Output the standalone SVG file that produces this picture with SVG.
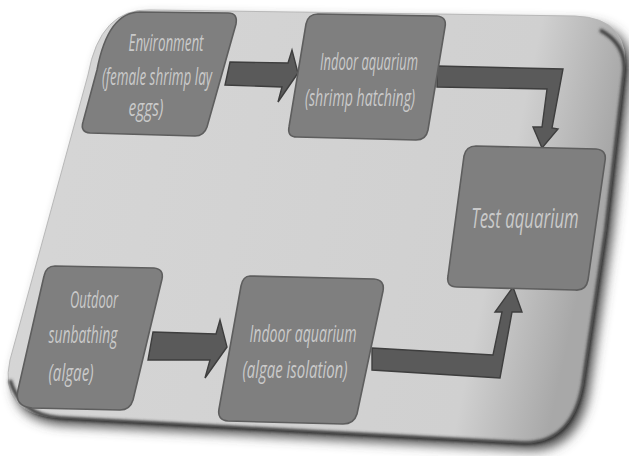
<svg xmlns="http://www.w3.org/2000/svg" width="629" height="456" viewBox="0 0 629 456">
<defs>
<style>
.node path{fill:#7f7f7f;stroke:#5e5e5e;stroke-width:1.6}
.node text{font-family:"Open Sans","Liberation Sans",sans-serif;font-style:italic;font-size:24px;fill:#cacaca;text-anchor:middle}
.arrow{fill:#5a5a5a;stroke:#3e3e3e;stroke-width:1.4;stroke-linejoin:miter}
</style>
<filter id="sh" x="-10%" y="-10%" width="125%" height="125%"><feGaussianBlur stdDeviation="6"/></filter>
<filter id="bl" x="-5%" y="-5%" width="110%" height="110%"><feGaussianBlur stdDeviation="1.6"/></filter>
<linearGradient id="pg" x1="0" y1="0" x2="1" y2="0.15">
<stop offset="0" stop-color="#d6d6d6"/>
<stop offset="0.85" stop-color="#d0d0d0"/>
<stop offset="1" stop-color="#a8a8a8"/>
</linearGradient>
</defs>
<rect width="629" height="456" fill="#ffffff"/>
<g id="panel">
<path d="M150 10 L575 16 Q632 18 624 75 L606 230 L583 385 Q572 446 520 443 L60 418 Q-2 414 10 360 L88 75 Q100 8 150 10 Z" fill="#4a4a4a" transform="translate(6,7)" filter="url(#sh)"/>
<path d="M150 10 L575 16 Q632 18 624 75 L606 230 L583 385 Q572 446 520 443 L60 418 Q-2 414 10 360 L88 75 Q100 8 150 10 Z" fill="url(#pg)" stroke="#b8b8b8" stroke-width="1"/>
<path d="M600 30 Q628 45 624 75 L606 230 L583 385 Q572 446 520 443 L60 418 Q20 415 10 380" fill="none" stroke="#333" stroke-width="3.5" filter="url(#bl)"/>
</g>
<g id="connectors">
<polygon class="arrow" points="230,62 288,63 292,50 298,73 278,102 282,87 225,85"/>
<polygon class="arrow" points="437,66 563,69 552,128 558,129 542,148 533,127 542,127 547,89 437,87"/>
<polygon class="arrow" points="153,332 216,334 220,320 227,347 205,378 210,360 148,360"/>
<polygon class="arrow" points="372,348 493,355 502,312 495,312 513,287 522,312 512,312 500,378 372,370"/>
</g>
<g id="node-environment" class="node">
<path d="M140 12 L228 13 Q238 13 236 24 L207 127 Q204 136 195 136 L90 133 Q80 132 83 122 L97 70 Q108 12 140 12 Z"/>
<text x="166" y="51" textLength="75" lengthAdjust="spacingAndGlyphs">Environment</text>
<text x="157" y="85" textLength="110" lengthAdjust="spacingAndGlyphs">(female shrimp lay</text>
<text x="146" y="116" textLength="35" lengthAdjust="spacingAndGlyphs">eggs)</text>
</g>
<g id="node-shrimp-hatching" class="node">
<path d="M318 14 L437 16 Q447 17 445 27 L428 130 Q426 140 416 140 L297 137 Q287 137 289 127 L306 24 Q308 14 318 14 Z"/>
<text x="369" y="70" textLength="98" lengthAdjust="spacingAndGlyphs">Indoor aquarium</text>
<text x="360" y="106" textLength="110" lengthAdjust="spacingAndGlyphs">(shrimp hatching)</text>
</g>
<g id="node-test" class="node">
<path d="M476 146 L596 149 Q607 150 605 161 L588 280 Q586 291 575 290 L457 287 Q446 287 448 276 L464 156 Q466 146 476 146 Z"/>
<text transform="translate(525,228) scale(0.6,1)" x="0" y="0" style="font-size:28px">Test aquarium</text>
</g>
<g id="node-outdoor" class="node">
<path d="M55 266 L154 268 Q164 269 162 279 L133 400 Q130 410 120 410 L32 408 Q14 406 18 390 L44 276 Q46 266 55 266 Z"/>
<text x="94" y="308" textLength="48" lengthAdjust="spacingAndGlyphs">Outdoor</text>
<text x="83" y="343" textLength="69" lengthAdjust="spacingAndGlyphs">sunbathing</text>
<text x="71" y="381" textLength="45" lengthAdjust="spacingAndGlyphs">(algae)</text>
</g>
<g id="node-algae-isolation" class="node">
<path d="M250 276 L374 279 Q385 280 383 291 L357 414 Q354 424 343 424 L228 421 Q217 420 219 409 L241 286 Q243 276 250 276 Z"/>
<text x="303" y="342" textLength="107" lengthAdjust="spacingAndGlyphs">Indoor aquarium</text>
<text x="295" y="378" textLength="105" lengthAdjust="spacingAndGlyphs">(algae isolation)</text>
</g>
</svg>
